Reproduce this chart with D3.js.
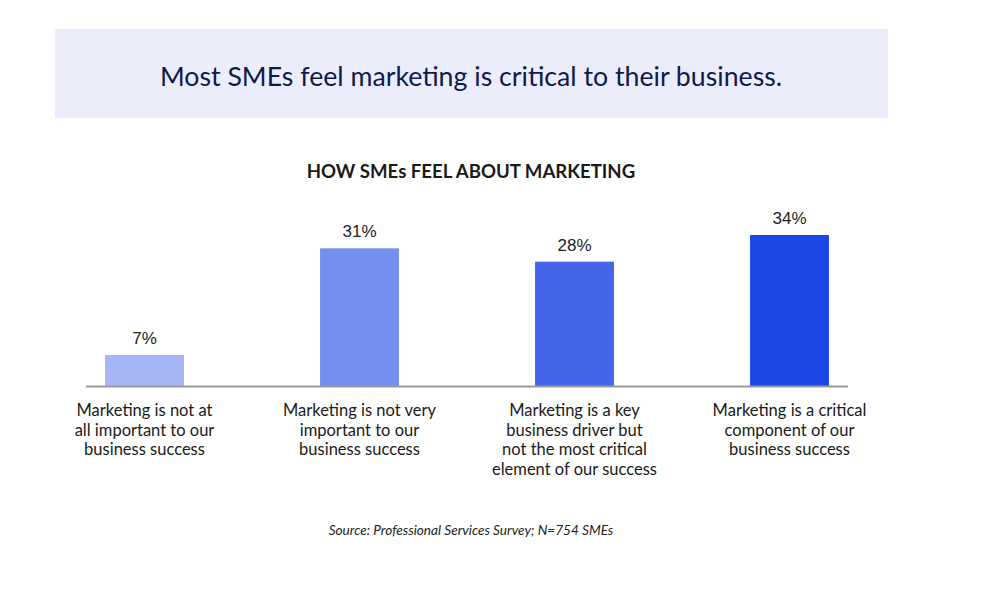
<!DOCTYPE html>
<html>
<head>
<meta charset="utf-8">
<script src="https://cdn.jsdelivr.net/npm/d3@7"></script>
<style>
  html, body { margin: 0; padding: 0; background: #fff; }
  svg { display: block; }
</style>
</head>
<body>
<div id="chart"></div>
<script>
// chart data
var categories = [
    ["Marketing is not at", "all important to our", "business success"],
    ["Marketing is not very", "important to our", "business success"],
    ["Marketing is a key", "business driver but", "not the most critical", "element of our success"],
    ["Marketing is a critical", "component of our", "business success"]
];
var values = [7, 31, 28, 34];
var barColours = ["#a5b5f6", "#748ff0", "#4566eb", "#1a47e6"];

var headline = "Most SMEs feel marketing is critical to their business.";
var chartTitle = "HOW SMEs FEEL ABOUT MARKETING";
var sourceNote = "Source: Professional Services Survey; N=754 SMEs";

(function() {
    var width = 984, height = 604;
    var baseline = 386;
    var mainFont = "Lato, 'Noto Sans', sans-serif";

    var svg = d3.select("#chart").append("svg")
        .attr("width", width)
        .attr("height", height);

    // headline banner
    svg.append("rect")
        .attr("x", 55).attr("y", 29)
        .attr("width", 833).attr("height", 89)
        .attr("fill", "#ebedfb");

    svg.append("text")
        .attr("x", 471).attr("y", 86)
        .attr("text-anchor", "middle")
        .style("font-family", mainFont)
        .style("font-size", "26.7px")
        .attr("fill", "#0f1a4e")
        .text(headline);

    svg.append("text")
        .attr("x", 471).attr("y", 178)
        .attr("text-anchor", "middle")
        .style("font-family", mainFont)
        .style("font-size", "18.6px")
        .style("font-weight", "bold")
        .attr("fill", "#1a1a1a")
        .text(chartTitle);

    var x = d3.scaleBand()
        .domain(d3.range(values.length))
        .range([37, 897])
        .paddingInner(0.633)
        .paddingOuter(0.3165);

    var y = d3.scaleLinear()
        .domain([0, 34])
        .range([baseline, 235]);

    var bars = svg.append("g").attr("class", "vis-series");

    bars.selectAll(".bar")
        .data(values)
        .enter()
        .append("rect")
        .attr("class", "bar")
        .attr("x", function(d, i) { return x(i); })
        .attr("y", function(d) { return y(d); })
        .attr("width", x.bandwidth())
        .attr("height", function(d) { return baseline - y(d); })
        .attr("fill", function(d, i) { return barColours[i]; });

    bars.selectAll(".bar-value")
        .data(values)
        .enter()
        .append("text")
        .attr("class", "bar-value")
        .attr("x", function(d, i) { return x(i) + x.bandwidth() / 2; })
        .attr("y", function(d) { return y(d) - 11; })
        .attr("text-anchor", "middle")
        .style("font-family", "'Liberation Sans', Arial, sans-serif")
        .style("font-size", "17px")
        .attr("fill", "#222")
        .text(function(d) { return d + "%"; });

    // baseline
    svg.append("line")
        .attr("x1", 86).attr("x2", 848)
        .attr("y1", baseline + 0.5).attr("y2", baseline + 0.5)
        .attr("stroke", "#9a9a9a")
        .attr("stroke-width", 2);

    // category labels
    var labels = svg.append("g").attr("class", "cat-labels");
    categories.forEach(function(lines, i) {
        var t = labels.append("text")
            .attr("x", x(i) + x.bandwidth() / 2)
            .attr("y", 416)
            .attr("text-anchor", "middle")
            .style("font-family", mainFont)
            .style("font-size", "16.5px")
            .attr("fill", "#1a1a1a");
        lines.forEach(function(line, j) {
            t.append("tspan")
                .attr("x", x(i) + x.bandwidth() / 2)
                .attr("dy", j === 0 ? 0 : 19.7)
                .text(line);
        });
    });

    svg.append("text")
        .attr("x", 471).attr("y", 535)
        .attr("text-anchor", "middle")
        .style("font-family", mainFont)
        .style("font-size", "13.6px")
        .style("font-style", "italic")
        .attr("fill", "#222")
        .text(sourceNote);
}());
</script>
</body>
</html>
